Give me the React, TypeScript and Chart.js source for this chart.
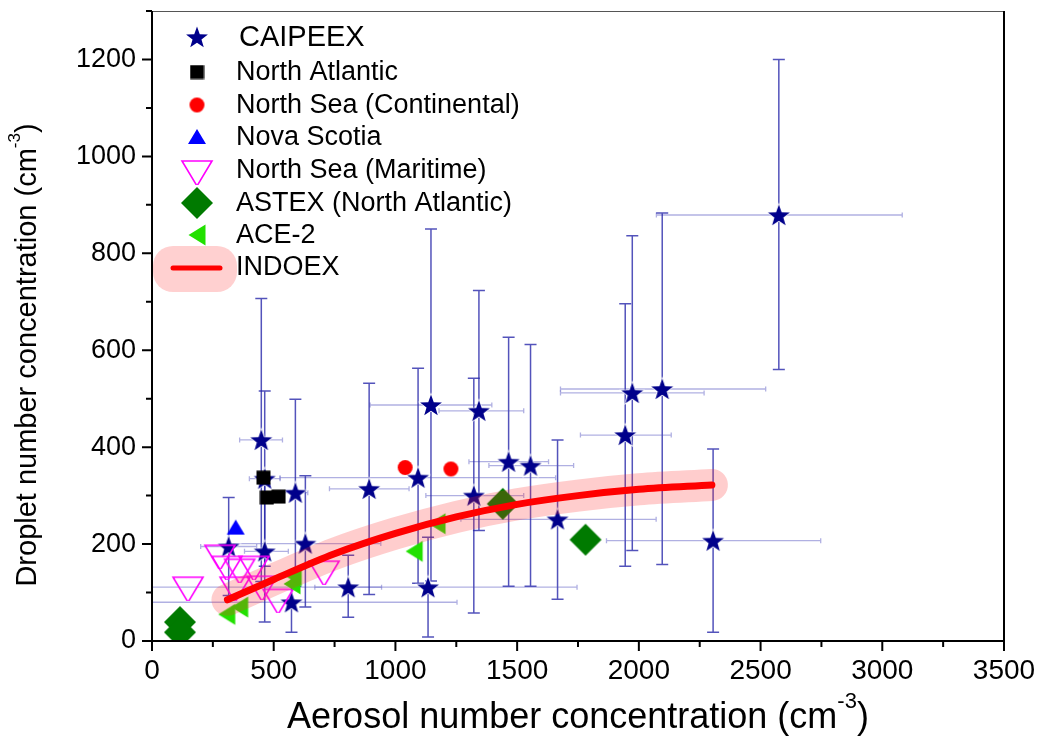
import React, { useEffect, useRef } from 'react';
import { Chart, registerables } from 'chart.js';

Chart.register(...registerables);

// ---------------- Data ----------------
// CAIPEEX (stars) with asymmetric error ranges
const CAI_X = [2575, 2096, 1973, 1944, 2305, 1666, 1555, 1465, 1343, 1322, 1146, 1093, 1134, 573, 806, 449, 463, 589, 892, 630, 315, 463];
const CAI_Y = [879, 520, 512, 425, 207, 251, 362, 370, 475, 300, 487, 337, 111, 80, 111, 415, 335, 306, 314, 201, 195, 185];
const CAI_YLO = [560, 158, 187, 154, 18, 86, 113, 113, 228, 58, 124, 119, 8, 18, 49, 123, 154, 113, 96, 70, 94, 39];
const CAI_YHI = [1200, 883, 836, 696, 396, 415, 612, 627, 723, 542, 850, 563, 214, 142, 177, 707, 516, 499, 532, 341, 296, 331];
const CAI_XLO = [2072, 1678, 1678, 1760, 1867, 1269, 1384, 1302, 1179, 1125, 896, 526, 0, 0, 669, 360, 400, 540, 729, 320, 200, 380];
const CAI_XHI = [3082, 2521, 2268, 2133, 2747, 2071, 1732, 1629, 1527, 1527, 1396, 1658, 1746, 1253, 943, 536, 526, 640, 1056, 940, 430, 560];

const NATL_X = [458, 472, 520];
const NATL_Y = [337, 296, 298];

const NSC_X = [1040, 1228];
const NSC_Y = [358, 355];

const NOVA_X = [344];
const NOVA_Y = [234];

const NSM_X = [148, 279, 308, 341, 360, 419, 452, 518, 707];
const NSM_Y = [113, 179, 156, 113, 150, 156, 115, 88, 146];

const ASTEX_X = [115, 115, 1441, 1781];
const ASTEX_Y = [39, 18, 283, 209];

const ACE_X = [307, 360, 575, 580, 1077, 1171];
const ACE_Y = [55, 70, 118, 135, 185, 242];

const INDOEX_X = [310, 500, 750, 1000, 1250, 1500, 1750, 2000, 2300];
const INDOEX_Y = [85, 127, 180, 222, 256, 282, 300, 313, 322];

const X_TICKS = [0, 500, 1000, 1500, 2000, 2500, 3000, 3500];
const Y_TICKS = [0, 200, 400, 600, 800, 1000, 1200];

const LEGEND_LABELS = [
  'CAIPEEX',
  'North Atlantic',
  'North Sea (Continental)',
  'Nova Scotia',
  'North Sea (Maritime)',
  'ASTEX (North Atlantic)',
  'ACE-2',
  'INDOEX',
];

const FONT = "'Liberation Sans', Arial, Helvetica, sans-serif";

// ---------------- Marker images ----------------
function mk(w: number, h: number, draw: (c: CanvasRenderingContext2D) => void) {
  const c = document.createElement('canvas');
  c.width = w;
  c.height = h;
  const ctx = c.getContext('2d') as CanvasRenderingContext2D;
  ctx.translate(w / 2, h / 2);
  draw(ctx);
  return c;
}

function makeMarkers() {
  const star = mk(26, 26, (c) => {
    const R = 11.5, r = 4.7;
    c.beginPath();
    for (let i = 0; i < 10; i++) {
      const rad = (i % 2 === 0 ? R : r);
      const a = -Math.PI / 2 + (i * Math.PI) / 5;
      const px = rad * Math.cos(a), py = rad * Math.sin(a) + 1;
      if (i === 0) c.moveTo(px, py); else c.lineTo(px, py);
    }
    c.closePath();
    c.lineWidth = 1.6;
    c.strokeStyle = '#ffffff';
    c.stroke();
    c.fillStyle = '#00008B';
    c.fill();
  });
  const square = mk(15, 15, (c) => {
    c.fillStyle = '#000000';
    c.fillRect(-7, -7, 14, 14);
  });
  const circle = mk(17, 17, (c) => {
    c.beginPath();
    c.arc(0, 0, 7.5, 0, Math.PI * 2);
    c.fillStyle = '#FF0000';
    c.fill();
  });
  const triUp = mk(20, 18, (c) => {
    c.beginPath();
    c.moveTo(0, -8);
    c.lineTo(9, 7);
    c.lineTo(-9, 7);
    c.closePath();
    c.fillStyle = '#0000FF';
    c.fill();
  });
  const triDown = mk(34, 30, (c) => {
    c.beginPath();
    c.moveTo(-15, -9);
    c.lineTo(15, -9);
    c.lineTo(0, 16);
    c.closePath();
    c.lineWidth = 1.6;
    c.strokeStyle = '#FF00FF';
    c.stroke();
  });
  const diamond = mk(34, 34, (c) => {
    c.beginPath();
    c.moveTo(0, -16);
    c.lineTo(16, 0);
    c.lineTo(0, 16);
    c.lineTo(-16, 0);
    c.closePath();
    c.fillStyle = '#007A00';
    c.fill();
  });
  const triLeft = mk(20, 24, (c) => {
    c.beginPath();
    c.moveTo(-8.5, 0);
    c.lineTo(8.5, -10.5);
    c.lineTo(8.5, 10.5);
    c.closePath();
    c.fillStyle = '#22E000';
    c.fill();
  });
  return { star, square, circle, triUp, triDown, diamond, triLeft };
}

const pts = (xs: number[], ys: number[]) => xs.map((x, i) => ({ x, y: ys[i] }));

export default function App() {
  const ref = useRef<HTMLCanvasElement | null>(null);

  useEffect(() => {
    const canvas = ref.current;
    if (!canvas) return;
    const M = makeMarkers();

    const errPlugin = {
      id: 'errbars',
      beforeDatasetsDraw(chart: any) {
        const { ctx, chartArea } = chart;
        const xs = chart.scales.x, ys = chart.scales.y;
        ctx.save();
        ctx.beginPath();
        ctx.rect(chartArea.left, chartArea.top, chartArea.right - chartArea.left, chartArea.bottom - chartArea.top);
        ctx.clip();
        for (let i = 0; i < CAI_X.length; i++) {
          const px = xs.getPixelForValue(CAI_X[i]);
          const py = ys.getPixelForValue(CAI_Y[i]);
          const x1 = xs.getPixelForValue(CAI_XLO[i]);
          const x2 = xs.getPixelForValue(CAI_XHI[i]);
          ctx.strokeStyle = 'rgba(80,80,190,0.45)';
          ctx.lineWidth = 1.3;
          ctx.beginPath();
          ctx.moveTo(x1, py); ctx.lineTo(x2, py);
          ctx.moveTo(x1, py - 2.5); ctx.lineTo(x1, py + 2.5);
          ctx.moveTo(x2, py - 2.5); ctx.lineTo(x2, py + 2.5);
          ctx.stroke();
          const y1 = ys.getPixelForValue(CAI_YLO[i]);
          const y2 = ys.getPixelForValue(CAI_YHI[i]);
          ctx.strokeStyle = 'rgba(40,40,170,0.8)';
          ctx.lineWidth = 1.5;
          ctx.beginPath();
          ctx.moveTo(px, y1); ctx.lineTo(px, y2);
          ctx.moveTo(px - 6, y1); ctx.lineTo(px + 6, y1);
          ctx.moveTo(px - 6, y2); ctx.lineTo(px + 6, y2);
          ctx.stroke();
        }
        ctx.restore();
      },
    };

    const drawSupTitle = (ctx: CanvasRenderingContext2D, main: string, sup: string, tail: string, size: number) => {
      const f = `${size}px ${FONT}`;
      const fs = `${Math.round(size * 0.6)}px ${FONT}`;
      ctx.font = f;
      const w1 = ctx.measureText(main).width;
      const w3 = ctx.measureText(tail).width;
      ctx.font = fs;
      const w2 = ctx.measureText(sup).width;
      const start = -(w1 + w2 + w3) / 2;
      ctx.textAlign = 'left';
      ctx.textBaseline = 'middle';
      ctx.fillStyle = '#000';
      ctx.font = f;
      ctx.fillText(main, start, 0);
      ctx.font = fs;
      ctx.fillText(sup, start + w1, -size * 0.45);
      ctx.font = f;
      ctx.fillText(tail, start + w1 + w2, 0);
    };

    const framePlugin = {
      id: 'frame',
      afterDraw(chart: any) {
        const { ctx, chartArea } = chart;
        const { left, right, top, bottom } = chartArea;
        const xs = chart.scales.x, ys = chart.scales.y;
        ctx.save();
        ctx.strokeStyle = '#555';
        ctx.lineWidth = 1;
        ctx.beginPath();
        ctx.moveTo(left, top + 0.5); ctx.lineTo(right, top + 0.5);
        ctx.stroke();
        ctx.strokeStyle = '#000';
        ctx.lineWidth = 2;
        ctx.beginPath();
        ctx.moveTo(right, top); ctx.lineTo(right, bottom + 1);
        ctx.moveTo(left, top); ctx.lineTo(left, bottom + 1);
        ctx.moveTo(left - 1, bottom); ctx.lineTo(right + 1, bottom);
        ctx.stroke();
        ctx.beginPath();
        for (let v = 0; v <= 3500; v += 250) {
          const px = xs.getPixelForValue(v);
          const len = v % 500 === 0 ? 10 : 6;
          ctx.moveTo(px, bottom); ctx.lineTo(px, bottom + len);
        }
        for (let v = 0; v <= 1300; v += 100) {
          const py = ys.getPixelForValue(v);
          const len = v % 200 === 0 ? 10 : 6;
          ctx.moveTo(left, py); ctx.lineTo(left - len, py);
        }
        ctx.stroke();

        ctx.save();
        ctx.translate((left + right) / 2, 718);
        drawSupTitle(ctx, 'Aerosol number concentration (cm', '-3', ')', 36);
        ctx.restore();
        ctx.save();
        ctx.translate(28, 355);
        ctx.rotate(-Math.PI / 2);
        drawSupTitle(ctx, 'Droplet number concentration (cm', '-3', ')', 29);
        ctx.restore();

        const imgs = [M.star, M.square, M.circle, M.triUp, M.triDown, M.diamond, M.triLeft, null];
        const rowsY = [37, 72, 105, 137, 170, 203, 235, 267];
        const symX = 197;
        const textX = 236;
        ctx.fillStyle = 'rgba(255,40,40,0.22)';
        const bx = 153, by = 246, bw = 84, bh = 46, br = 20;
        ctx.beginPath();
        ctx.moveTo(bx + br, by);
        ctx.lineTo(bx + bw - br, by);
        ctx.arcTo(bx + bw, by, bx + bw, by + br, br);
        ctx.lineTo(bx + bw, by + bh - br);
        ctx.arcTo(bx + bw, by + bh, bx + bw - br, by + bh, br);
        ctx.lineTo(bx + br, by + bh);
        ctx.arcTo(bx, by + bh, bx, by + bh - br, br);
        ctx.lineTo(bx, by + br);
        ctx.arcTo(bx, by, bx + br, by, br);
        ctx.closePath();
        ctx.fill();
        ctx.strokeStyle = '#FF0000';
        ctx.lineWidth = 5;
        ctx.lineCap = 'round';
        ctx.beginPath();
        ctx.moveTo(173, 268); ctx.lineTo(220, 268);
        ctx.stroke();

        for (let i = 0; i < LEGEND_LABELS.length; i++) {
          const img = imgs[i];
          if (img) ctx.drawImage(img, symX - img.width / 2, rowsY[i] - img.height / 2);
          ctx.fillStyle = '#000';
          ctx.textAlign = 'left';
          ctx.textBaseline = 'middle';
          ctx.font = `${i === 0 ? 29 : 27}px ${FONT}`;
          ctx.fillText(LEGEND_LABELS[i], i === 0 ? 239 : textX, rowsY[i] + 1);
        }
        ctx.restore();
      },
    };

    const markerDs = (label: string, xs: number[], ys: number[], img: HTMLCanvasElement, order: number) => ({
      label,
      data: pts(xs, ys),
      pointStyle: img,
      pointRadius: 10,
      pointHoverRadius: 10,
      showLine: false,
      order,
    });

    const chart = new Chart(canvas, {
      type: 'scatter',
      data: {
        datasets: [
          {
            label: 'INDOEX',
            data: pts(INDOEX_X, INDOEX_Y),
            showLine: true,
            borderColor: '#FF0000',
            borderWidth: 7,
            borderCapStyle: 'round',
            pointRadius: 0,
            tension: 0.4,
            cubicInterpolationMode: 'monotone',
            order: 0,
          } as any,
          {
            label: 'INDOEX band',
            data: pts(INDOEX_X, INDOEX_Y),
            showLine: true,
            borderColor: 'rgba(255,40,40,0.23)',
            borderWidth: 32,
            borderCapStyle: 'round',
            pointRadius: 0,
            tension: 0.4,
            cubicInterpolationMode: 'monotone',
            order: 1,
          } as any,
          markerDs('ACE-2', ACE_X, ACE_Y, M.triLeft, 2),
          markerDs('ASTEX (North Atlantic)', ASTEX_X, ASTEX_Y, M.diamond, 3),
          markerDs('North Sea (Maritime)', NSM_X, NSM_Y, M.triDown, 4),
          markerDs('Nova Scotia', NOVA_X, NOVA_Y, M.triUp, 5),
          markerDs('North Sea (Continental)', NSC_X, NSC_Y, M.circle, 6),
          markerDs('North Atlantic', NATL_X, NATL_Y, M.square, 7),
          markerDs('CAIPEEX', CAI_X, CAI_Y, M.star, 8),
        ],
      },
      options: {
        animation: false,
        responsive: false,
        devicePixelRatio: 1,
        layout: { padding: { top: 8, right: 35, left: 0, bottom: 0 } },
        plugins: {
          legend: { display: false },
          tooltip: { enabled: false },
        },
        scales: {
          x: {
            type: 'linear',
            min: 0,
            max: 3500,
            afterBuildTicks: (s: any) => {
              s.ticks = X_TICKS.map((v) => ({ value: v }));
            },
            afterFit: (s: any) => {
              s.height = 104;
              s.paddingLeft = 0;
              s.paddingRight = 0;
              s.paddingTop = 0;
              s.paddingBottom = 0;
            },
            grid: { display: false, drawTicks: false },
            border: { display: false },
            ticks: {
              font: { size: 28, family: FONT },
              color: '#000',
              padding: 13,
              maxRotation: 0,
              autoSkip: false,
              callback: (v: any) => String(v),
            },
          },
          y: {
            type: 'linear',
            min: 0,
            max: 1300,
            afterBuildTicks: (s: any) => {
              s.ticks = Y_TICKS.map((v) => ({ value: v }));
            },
            afterFit: (s: any) => {
              s.width = 152;
              s.paddingLeft = 0;
              s.paddingRight = 0;
              s.paddingTop = 0;
              s.paddingBottom = 0;
            },
            grid: { display: false, drawTicks: false },
            border: { display: false },
            ticks: {
              font: { size: 27, family: FONT },
              color: '#000',
              padding: 16,
              autoSkip: false,
              callback: (v: any) => String(v),
            },
          },
        },
      },
      plugins: [errPlugin, framePlugin],
    } as any);

    return () => chart.destroy();
  }, []);

  return (
    <div style={{ position: 'absolute', left: 0, top: 0, width: 1039, height: 745, background: '#fff' }}>
      <canvas ref={ref} width={1039} height={745} style={{ width: 1039, height: 745, display: 'block' }} />
    </div>
  );
}
